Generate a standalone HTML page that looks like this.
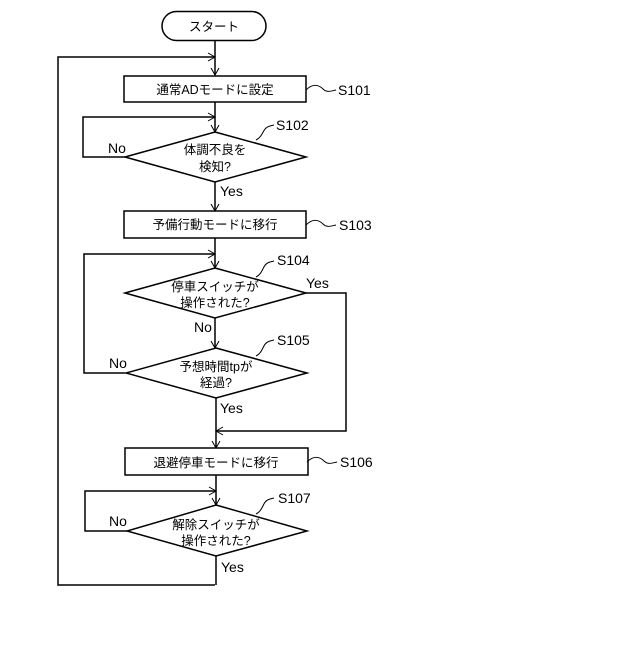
<!DOCTYPE html>
<html><head><meta charset="utf-8"><style>
html,body{margin:0;padding:0;background:#fff;}
svg text{font-family:"Liberation Sans","Noto Sans CJK JP",sans-serif;fill:#000;}
</style></head><body>
<svg width="640" height="640" viewBox="0 0 640 640" xmlns="http://www.w3.org/2000/svg">
<defs><marker id="a" markerWidth="10" markerHeight="10" refX="8" refY="5" orient="auto" markerUnits="userSpaceOnUse"><path d="M1,1 L8,5 L1,9" fill="none" stroke="#000" stroke-width="1"/></marker></defs>
<g fill="none" stroke="#000" stroke-width="1.5">
<rect x="162" y="11.5" width="104" height="29" rx="14.5" fill="#fff"/>
<line x1="215" y1="41" x2="215" y2="75" marker-end="url(#a)"/>
<polyline points="215,585 58,585 58,57 215,57" marker-end="url(#a)"/>
<rect x="124" y="76" width="182" height="26"/>
<line x1="215" y1="102" x2="215" y2="132" marker-end="url(#a)"/>
<polygon points="215,132 306,157 215,182 125,157"/>
<polyline points="125,157 83,157 83,117 215,117" marker-end="url(#a)"/>
<line x1="215" y1="182" x2="215" y2="211" marker-end="url(#a)"/>
<rect x="124" y="211" width="182" height="27"/>
<line x1="215" y1="238" x2="215" y2="268" marker-end="url(#a)"/>
<polygon points="215,268 306,293 215,318 125,293"/>
<polyline points="125,373 84,373 84,254 215,254" marker-end="url(#a)"/>
<polyline points="306,293 346,293 346,431 216,431" marker-end="url(#a)"/>
<line x1="215" y1="318" x2="215" y2="348" marker-end="url(#a)"/>
<polygon points="216,348 307,373 216,398 126,373"/>
<line x1="216" y1="398" x2="216" y2="448" marker-end="url(#a)"/>
<rect x="125" y="448" width="183" height="27"/>
<line x1="216" y1="475" x2="216" y2="505" marker-end="url(#a)"/>
<polygon points="216,505 307,531 216,556 127,531"/>
<polyline points="127,531 85,531 85,491 216,491" marker-end="url(#a)"/>
<line x1="216" y1="556" x2="216" y2="585"/>
<g stroke-width="1">
<path d="M306,90 C312,84 318,84 323,89 C327,93 331,91 336,90"/>
<path d="M306,225 C312,219 318,219 323,224 C327,228 331,226 336,225"/>
<path d="M307,462 C313,456 319,456 324,461 C328,465 332,463 337,462"/>
<path d="M256,140 C264,136 262,128 270,126 L274,125"/>
<path d="M256,277 C264,273 262,264 270,262 L274,261"/>
<path d="M256,356 C264,352 262,343 270,341 L274,340"/>
<path d="M256,514 C264,510 262,501 270,499 L274,498"/>
</g>
</g>
<g font-size="12.5" text-anchor="middle">
<text x="214" y="31">スタート</text>
<text x="215" y="94">通常ADモードに設定</text>
<text x="215" y="154">体調不良を</text>
<text x="215" y="171">検知?</text>
<text x="215" y="229">予備行動モードに移行</text>
<text x="215" y="291">停車スイッチが</text>
<text x="215" y="307">操作された?</text>
<text x="216" y="371">予想時間tpが</text>
<text x="216" y="387">経過?</text>
<text x="216" y="467">退避停車モードに移行</text>
<text x="216" y="529">解除スイッチが</text>
<text x="216" y="545">操作された?</text>
</g>
<g font-size="14">
<text x="338" y="95">S101</text>
<text x="276" y="130">S102</text>
<text x="339" y="230">S103</text>
<text x="277" y="265">S104</text>
<text x="277" y="345">S105</text>
<text x="340" y="467">S106</text>
<text x="278" y="503">S107</text>
<text x="108" y="153">No</text>
<text x="220" y="196">Yes</text>
<text x="306" y="288">Yes</text>
<text x="194" y="332">No</text>
<text x="109" y="368">No</text>
<text x="220" y="413">Yes</text>
<text x="109" y="526">No</text>
<text x="221" y="572">Yes</text>
</g>
</svg>
</body></html>
